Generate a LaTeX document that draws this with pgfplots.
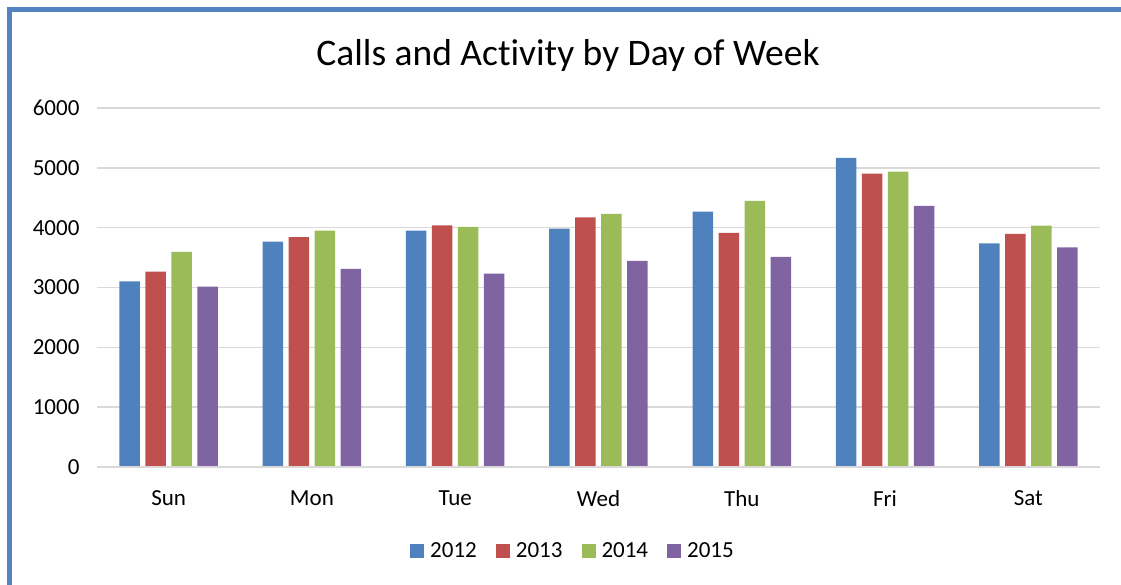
\documentclass[border=0pt]{standalone}
\usepackage{pgfplots}
\pgfplotsset{compat=1.18}
\usepackage{fontspec}
\setmainfont{Carlito}[Ligatures=NoCommon]
\definecolor{cBlue}{HTML}{4F81BD}
\definecolor{cRed}{HTML}{C0504D}
\definecolor{cGreen}{HTML}{9BBB59}
\definecolor{cPurple}{HTML}{8064A2}
\definecolor{frameblue}{HTML}{5383C0}
\definecolor{gridgray}{HTML}{D9D9D9}
\begin{document}
\begin{tikzpicture}
\useasboundingbox (0pt,0pt) rectangle (1121pt,584pt);
\draw[line width=4.5pt, frameblue] (9.5pt,-20pt) -- (9.5pt,574.5pt) -- (1140pt,574.5pt);
\node[anchor=base, font=\fontsize{37.5}{42}\selectfont] at (568pt,518pt) {Calls and Act\kern0pt ivity by Day of Week};
\begin{axis}[
  at={(97pt,117pt)}, anchor=south west,
  scale only axis, width=1003pt, height=359pt,
  ybar=5.5pt, bar width=20.5pt,
  xmin=-0.5, xmax=6.5, ymin=0, ymax=6000,
  xtick={0,1,2,3,4,5,6},
  xticklabels={Sun,Mon,Tue,Wed,Thu,Fri,Sat},
  ytick={0,1000,2000,3000,4000,5000,6000},
  major tick length=0pt,
  axis line style={draw=none},
  ymajorgrids, grid style={gridgray, line width=1.5pt},
  /pgf/number format/assume math mode=true,
  /pgf/number format/1000 sep={},
  scaled y ticks=false,
  tick label style={font=\fontsize{23}{27}\selectfont},
  yticklabel style={xshift=-14pt},
  xticklabel style={yshift=-20pt},
  legend style={at={(axis description cs:0.4746,-0.234)}, anchor=center, draw=none,
    legend columns=-1, font=\fontsize{23}{27}\selectfont,
    /tikz/every odd column/.append style={column sep=4pt},
    /tikz/every even column/.append style={column sep=17pt}},
  legend image code/.code={\fill[#1] (0pt,-7pt) rectangle (14pt,7pt);},
]
\addplot[fill=cBlue, draw=none] coordinates {(0,3104) (1,3768) (2,3952) (3,3985) (4,4269) (5,5167) (6,3736)};
\addplot[fill=cRed, draw=none] coordinates {(0,3266) (1,3840) (2,4040) (3,4174) (4,3913) (5,4905) (6,3896)};
\addplot[fill=cGreen, draw=none] coordinates {(0,3595) (1,3952) (2,4013) (3,4230) (4,4448) (5,4938) (6,4035)};
\addplot[fill=cPurple, draw=none] coordinates {(0,3015) (1,3311) (2,3232) (3,3445) (4,3512) (5,4365) (6,3669)};
\legend{2012,2013,2014,2015}
\draw[gridgray, line width=1.5pt] (axis cs:-0.5,0) -- (axis cs:6.5,0);
\end{axis}
\end{tikzpicture}
\end{document}
